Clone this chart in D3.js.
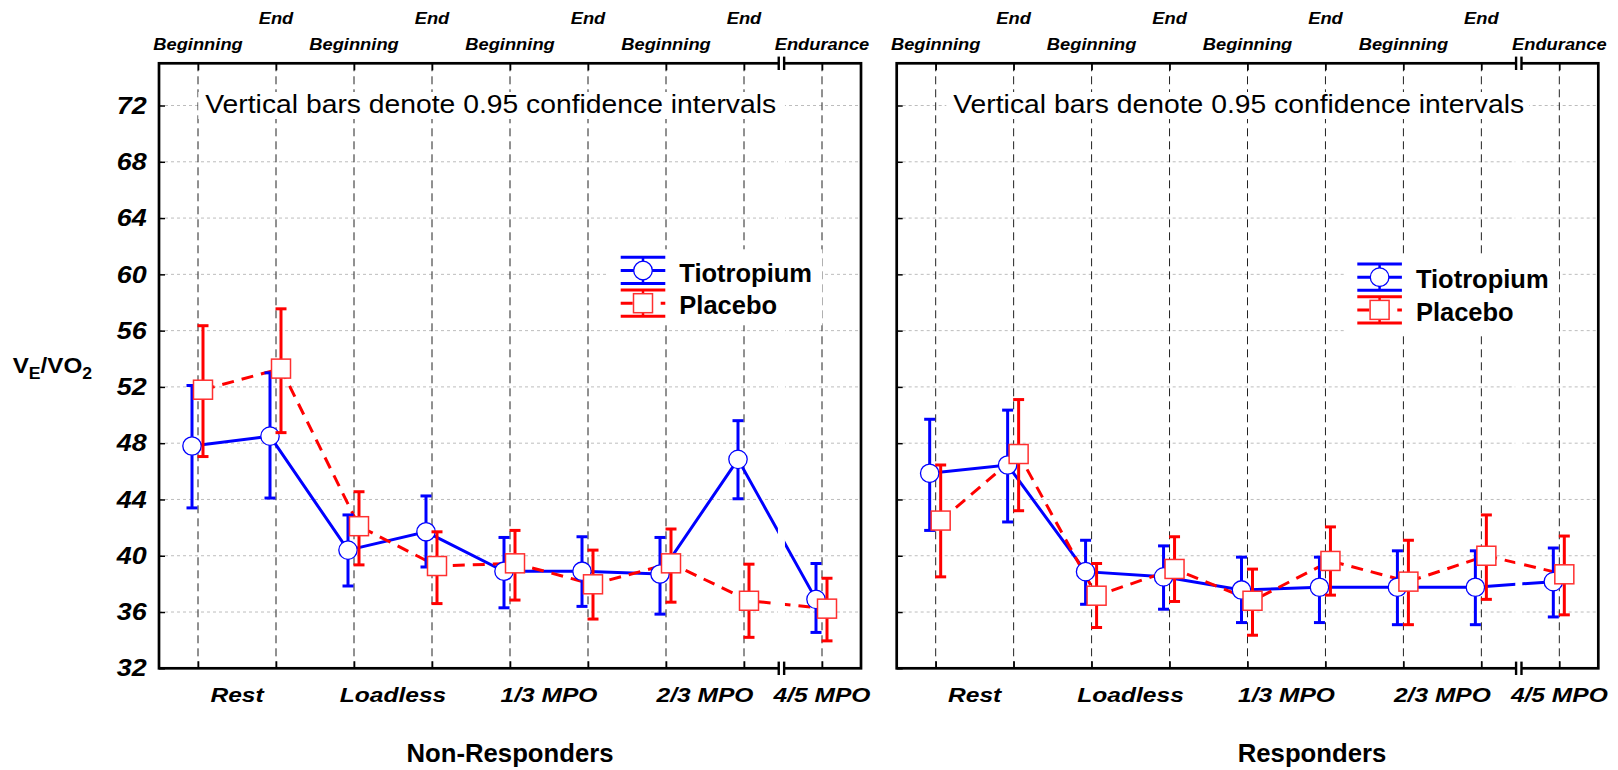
<!DOCTYPE html>
<html>
<head>
<meta charset="utf-8">
<script src="https://cdn.jsdelivr.net/npm/d3@7"></script>
<style>
  html, body { margin: 0; padding: 0; background: #fff; }
  svg { display: block; }
</style>
</head>
<body>
<svg id="chart" width="1618" height="770"></svg>
<script>
// ---- data ----------------------------------------------------------------
const timePointLabels = ["Beginning", "End", "Beginning", "End", "Beginning", "End", "Beginning", "End", "Endurance"];
const timePointStage  = [0, 0, 1, 1, 2, 2, 3, 3, 4];
const stageLabels     = ["Rest", "Loadless", "1/3 MPO", "2/3 MPO", "4/5 MPO"];
const yTickValues     = [32, 36, 40, 44, 48, 52, 56, 60, 64, 68, 72];
const seriesNames     = ["Tiotropium", "Placebo"];
const panelTitles     = ["Non-Responders", "Responders"];
const noteText        = "Vertical bars denote 0.95 confidence intervals";

// Non-responders
const nonRespTioMean = [47.8, 48.5, 40.4, 41.7, 38.9, 38.9, 38.7, 46.85, 36.9];
const nonRespTioLow  = [43.4, 44.1, 37.85, 39.2, 36.3, 36.4, 35.85, 44.05, 34.55];
const nonRespTioHigh = [52.1, 53.0, 42.9, 44.25, 41.3, 41.35, 41.3, 49.6, 39.45];
const nonRespPlaMean = [51.8, 53.3, 42.1, 39.27, 39.46, 37.97, 39.46, 36.8, 36.24];
const nonRespPlaLow  = [47.05, 48.75, 39.35, 36.6, 36.85, 35.5, 36.7, 34.2, 33.95];
const nonRespPlaHigh = [56.35, 57.55, 44.55, 41.7, 41.8, 40.4, 41.9, 39.4, 38.4];

// Responders
const respTioMean = [45.86, 46.45, 38.87, 38.5, 37.57, 37.76, 37.76, 37.76, 38.16];
const respTioLow  = [41.8, 42.4, 36.55, 36.2, 35.25, 35.25, 35.1, 35.1, 35.65];
const respTioHigh = [49.7, 50.35, 41.1, 40.7, 39.9, 39.9, 40.35, 40.35, 40.55];
const respPlaMean = [42.5, 47.23, 37.16, 39.06, 36.8, 39.63, 38.16, 40.0, 38.68];
const respPlaLow  = [38.5, 43.2, 34.9, 36.75, 34.35, 37.2, 35.1, 36.9, 35.8];
const respPlaHigh = [46.45, 51.1, 39.45, 41.35, 39.05, 42.05, 41.1, 42.9, 41.4];

// ---- layout --------------------------------------------------------------
const FONT = "'Liberation Sans', Arial, Helvetica, sans-serif";
const TOP = 63.3, BOTTOM = 668.3;
const BLUE = "#0000ff", RED = "#ff0000";

const panels = [
  { x0: 159, x1: 861, legendX: 620.7, legendY: 257.3, noteX: 205.3, titleX: 510, showYLabels: true,
    tio: { mean: nonRespTioMean, low: nonRespTioLow, high: nonRespTioHigh },
    pla: { mean: nonRespPlaMean, low: nonRespPlaLow, high: nonRespPlaHigh } },
  { x0: 896.7, x1: 1598.3, legendX: 1357.3, legendY: 264, noteX: 953.3, titleX: 1312, showYLabels: false,
    tio: { mean: respTioMean, low: respTioLow, high: respTioHigh },
    pla: { mean: respPlaMean, low: respPlaLow, high: respPlaHigh } }
];

const svg = d3.select("#chart");
svg.append("rect").attr("width", 1618).attr("height", 770).attr("fill", "#fff");

// text with a horizontal stretch factor
function sText(parent, x, y, str, size, weight, style, sx, anchor) {
  return parent.append("text")
    .attr("transform", `translate(${x},${y}) scale(${sx},1)`)
    .attr("text-anchor", anchor || "start")
    .style("font-family", FONT)
    .style("font-size", size + "px")
    .style("font-weight", weight)
    .style("font-style", style)
    .attr("fill", "#000")
    .text(str);
}

const y = d3.scaleLinear().domain([32, 75]).range([BOTTOM, TOP]);

panels.forEach((p, pi) => {
  const g = svg.append("g");
  const x = d3.scaleLinear().domain([0, 9]).range([p.x0, p.x1]);
  const pos = timePointLabels.map((d, i) => i + 0.5);
  const xb = x(7.98); // axis break between the stages and the endurance test

  // horizontal dotted grid
  g.append("g").selectAll("line").data(yTickValues.filter(v => v > 32)).join("line")
    .attr("x1", p.x0).attr("x2", p.x1)
    .attr("y1", d => y(d)).attr("y2", d => y(d))
    .attr("stroke", "#bdbdbd").attr("stroke-width", 1).attr("stroke-dasharray", "3,3");

  // vertical dashed guides at each time point
  g.append("g").selectAll("line").data(pos).join("line")
    .attr("x1", d => x(d)).attr("x2", d => x(d))
    .attr("y1", TOP).attr("y2", BOTTOM)
    .attr("stroke", "#222").attr("stroke-width", 1).attr("stroke-dasharray", "8,5");

  // connecting lines
  const offT = -6, offP = 5;
  const lineT = d3.line().x((d, i) => x(pos[i]) + offT).y(d => y(d));
  const lineP = d3.line().x((d, i) => x(pos[i]) + offP).y(d => y(d));
  g.append("path").attr("d", lineT(p.tio.mean)).attr("fill", "none").attr("stroke", BLUE).attr("stroke-width", 3);
  g.append("path").attr("d", lineP(p.pla.mean)).attr("fill", "none").attr("stroke", RED).attr("stroke-width", 3)
    .attr("stroke-dasharray", "12,8");

  // white gap at the axis break
  g.append("rect").attr("x", xb - 3.5).attr("y", TOP).attr("width", 7).attr("height", BOTTOM - TOP).attr("fill", "#fff");

  // note box
  const noteW = 572.7;
  g.append("rect").attr("x", p.noteX - 7).attr("y", 92).attr("width", noteW + 10).attr("height", 27).attr("fill", "#fff");
  sText(g, p.noteX, 113.3, noteText, 25.5, "normal", "normal", 1.11);

  // legend
  const lx = p.legendX, ly = p.legendY, lw = 44.6, lc = lx + lw / 2;
  g.append("rect").attr("x", lx - 12).attr("y", ly - 8).attr("width", 58.6 + 133 + 22).attr("height", 76).attr("fill", "#fff");
  const legendRows = [
    { name: seriesNames[0], color: BLUE, y0: ly, dash: null, shape: "circle" },
    { name: seriesNames[1], color: RED, y0: ly + 32.7, dash: "12,8", shape: "square" }
  ];
  legendRows.forEach(r => {
    const lg = g.append("g");
    const mid = r.y0 + 13.2, bot = r.y0 + 26.2;
    lg.append("line").attr("x1", lx).attr("x2", lx + lw).attr("y1", r.y0).attr("y2", r.y0).attr("stroke", r.color).attr("stroke-width", 3);
    lg.append("line").attr("x1", lx).attr("x2", lx + lw).attr("y1", bot).attr("y2", bot).attr("stroke", r.color).attr("stroke-width", 3);
    lg.append("line").attr("x1", lx).attr("x2", lx + lw).attr("y1", mid).attr("y2", mid).attr("stroke", r.color).attr("stroke-width", 3)
      .attr("stroke-dasharray", r.dash);
    lg.append("line").attr("x1", lc).attr("x2", lc).attr("y1", r.y0).attr("y2", bot).attr("stroke", r.color).attr("stroke-width", 2.5);
    if (r.shape === "circle") {
      lg.append("circle").attr("cx", lc).attr("cy", mid).attr("r", 9.3).attr("fill", "#fff").attr("stroke", r.color).attr("stroke-width", 1.3);
    } else {
      lg.append("rect").attr("x", lc - 9.5).attr("y", mid - 9.5).attr("width", 19).attr("height", 19)
        .attr("fill", "#fff").attr("stroke", "#ff3030").attr("stroke-width", 1.5);
    }
    sText(lg, lx + 58.6, mid + 11, r.name, 25.5, "bold", "normal", 1);
  });

  // error bars + markers
  function drawSeries(s, off, color, shape) {
    const eg = g.append("g");
    s.mean.forEach((m, i) => {
      const cx = x(pos[i]) + off;
      eg.append("line").attr("x1", cx).attr("x2", cx).attr("y1", y(s.low[i])).attr("y2", y(s.high[i]))
        .attr("stroke", color).attr("stroke-width", 3);
      [s.low[i], s.high[i]].forEach(v => {
        eg.append("line").attr("x1", cx - 5.5).attr("x2", cx + 5.5).attr("y1", y(v)).attr("y2", y(v))
          .attr("stroke", color).attr("stroke-width", 3);
      });
    });
    const mg = g.append("g");
    s.mean.forEach((m, i) => {
      const cx = x(pos[i]) + off;
      if (shape === "circle") {
        mg.append("circle").attr("cx", cx).attr("cy", y(m)).attr("r", 9.2)
          .attr("fill", "#fff").attr("stroke", color).attr("stroke-width", 1.3);
      } else {
        mg.append("rect").attr("x", cx - 9.5).attr("y", y(m) - 9.5).attr("width", 19).attr("height", 19)
          .attr("fill", "#fff").attr("stroke", "#ff3030").attr("stroke-width", 1.5);
      }
    });
  }
  drawSeries(p.tio, offT, BLUE, "circle");
  drawSeries(p.pla, offP, RED, "square");

  // frame
  g.append("rect").attr("x", p.x0).attr("y", TOP).attr("width", p.x1 - p.x0).attr("height", BOTTOM - TOP)
    .attr("fill", "none").attr("stroke", "#000").attr("stroke-width", 2.7);

  // y axis
  const yAx = g.append("g").attr("transform", `translate(${p.x0},0)`)
    .call(d3.axisLeft(y).tickValues(yTickValues).tickSizeInner(-6).tickSizeOuter(0).tickPadding(11)
      .tickFormat(p.showYLabels ? d3.format("d") : () => ""));
  yAx.select(".domain").remove();
  yAx.selectAll("line").attr("stroke", "#000").attr("stroke-width", 1.5);
  yAx.selectAll("text").attr("transform", "scale(1.12,1)")
    .style("font-family", FONT).style("font-size", "24px").style("font-weight", "bold").style("font-style", "italic").attr("fill", "#000");

  // top / bottom ticks
  const topAx = g.append("g").attr("transform", `translate(0,${TOP})`)
    .call(d3.axisTop(x).tickValues(pos).tickSizeInner(-7).tickSizeOuter(0).tickFormat(""));
  topAx.select(".domain").remove();
  topAx.selectAll("line").attr("stroke", "#000").attr("stroke-width", 1.6);
  const botAx = g.append("g").attr("transform", `translate(0,${BOTTOM})`)
    .call(d3.axisBottom(x).tickValues(pos).tickSizeInner(-7).tickSizeOuter(0).tickFormat(""));
  botAx.select(".domain").remove();
  botAx.selectAll("line").attr("stroke", "#000").attr("stroke-width", 1.6);

  // axis-break marks
  [TOP, BOTTOM].forEach(yy => {
    g.append("rect").attr("x", xb - 2.2).attr("y", yy - 2.5).attr("width", 4.4).attr("height", 5).attr("fill", "#fff");
    [-2.7, 2.7].forEach(dx => {
      g.append("line").attr("x1", xb + dx).attr("x2", xb + dx).attr("y1", yy - 6.7).attr("y2", yy + 6.7)
        .attr("stroke", "#000").attr("stroke-width", 2.4);
    });
  });

  // time-point labels above the frame
  timePointLabels.forEach((lab, i) => {
    const upper = lab === "End";
    sText(g, x(pos[i]), upper ? 24 : 50, lab, 16.5, "bold", "italic", 1.11, "middle");
  });

  // stage labels below the frame
  stageLabels.forEach((lab, k) => {
    const cx = d3.mean(pos.filter((d, i) => timePointStage[i] === k).map(d => x(d)));
    sText(g, cx, 702, lab, 21, "bold", "italic", 1.17, "middle");
  });

  // panel title
  sText(g, p.titleX, 761.7, panelTitles[pi], 25.7, "bold", "normal", 1, "middle");
});

// y-axis title V_E / VO_2
const yt = svg.append("text")
  .attr("transform", "translate(12.7,373.3) scale(1.1,1)")
  .style("font-family", FONT).style("font-weight", "bold").style("font-size", "22px").attr("fill", "#000");
yt.append("tspan").text("V");
yt.append("tspan").attr("dy", 6).style("font-size", "16px").text("E");
yt.append("tspan").attr("dy", -6).text("/VO");
yt.append("tspan").attr("dy", 6).style("font-size", "16px").text("2");
</script>
</body>
</html>
